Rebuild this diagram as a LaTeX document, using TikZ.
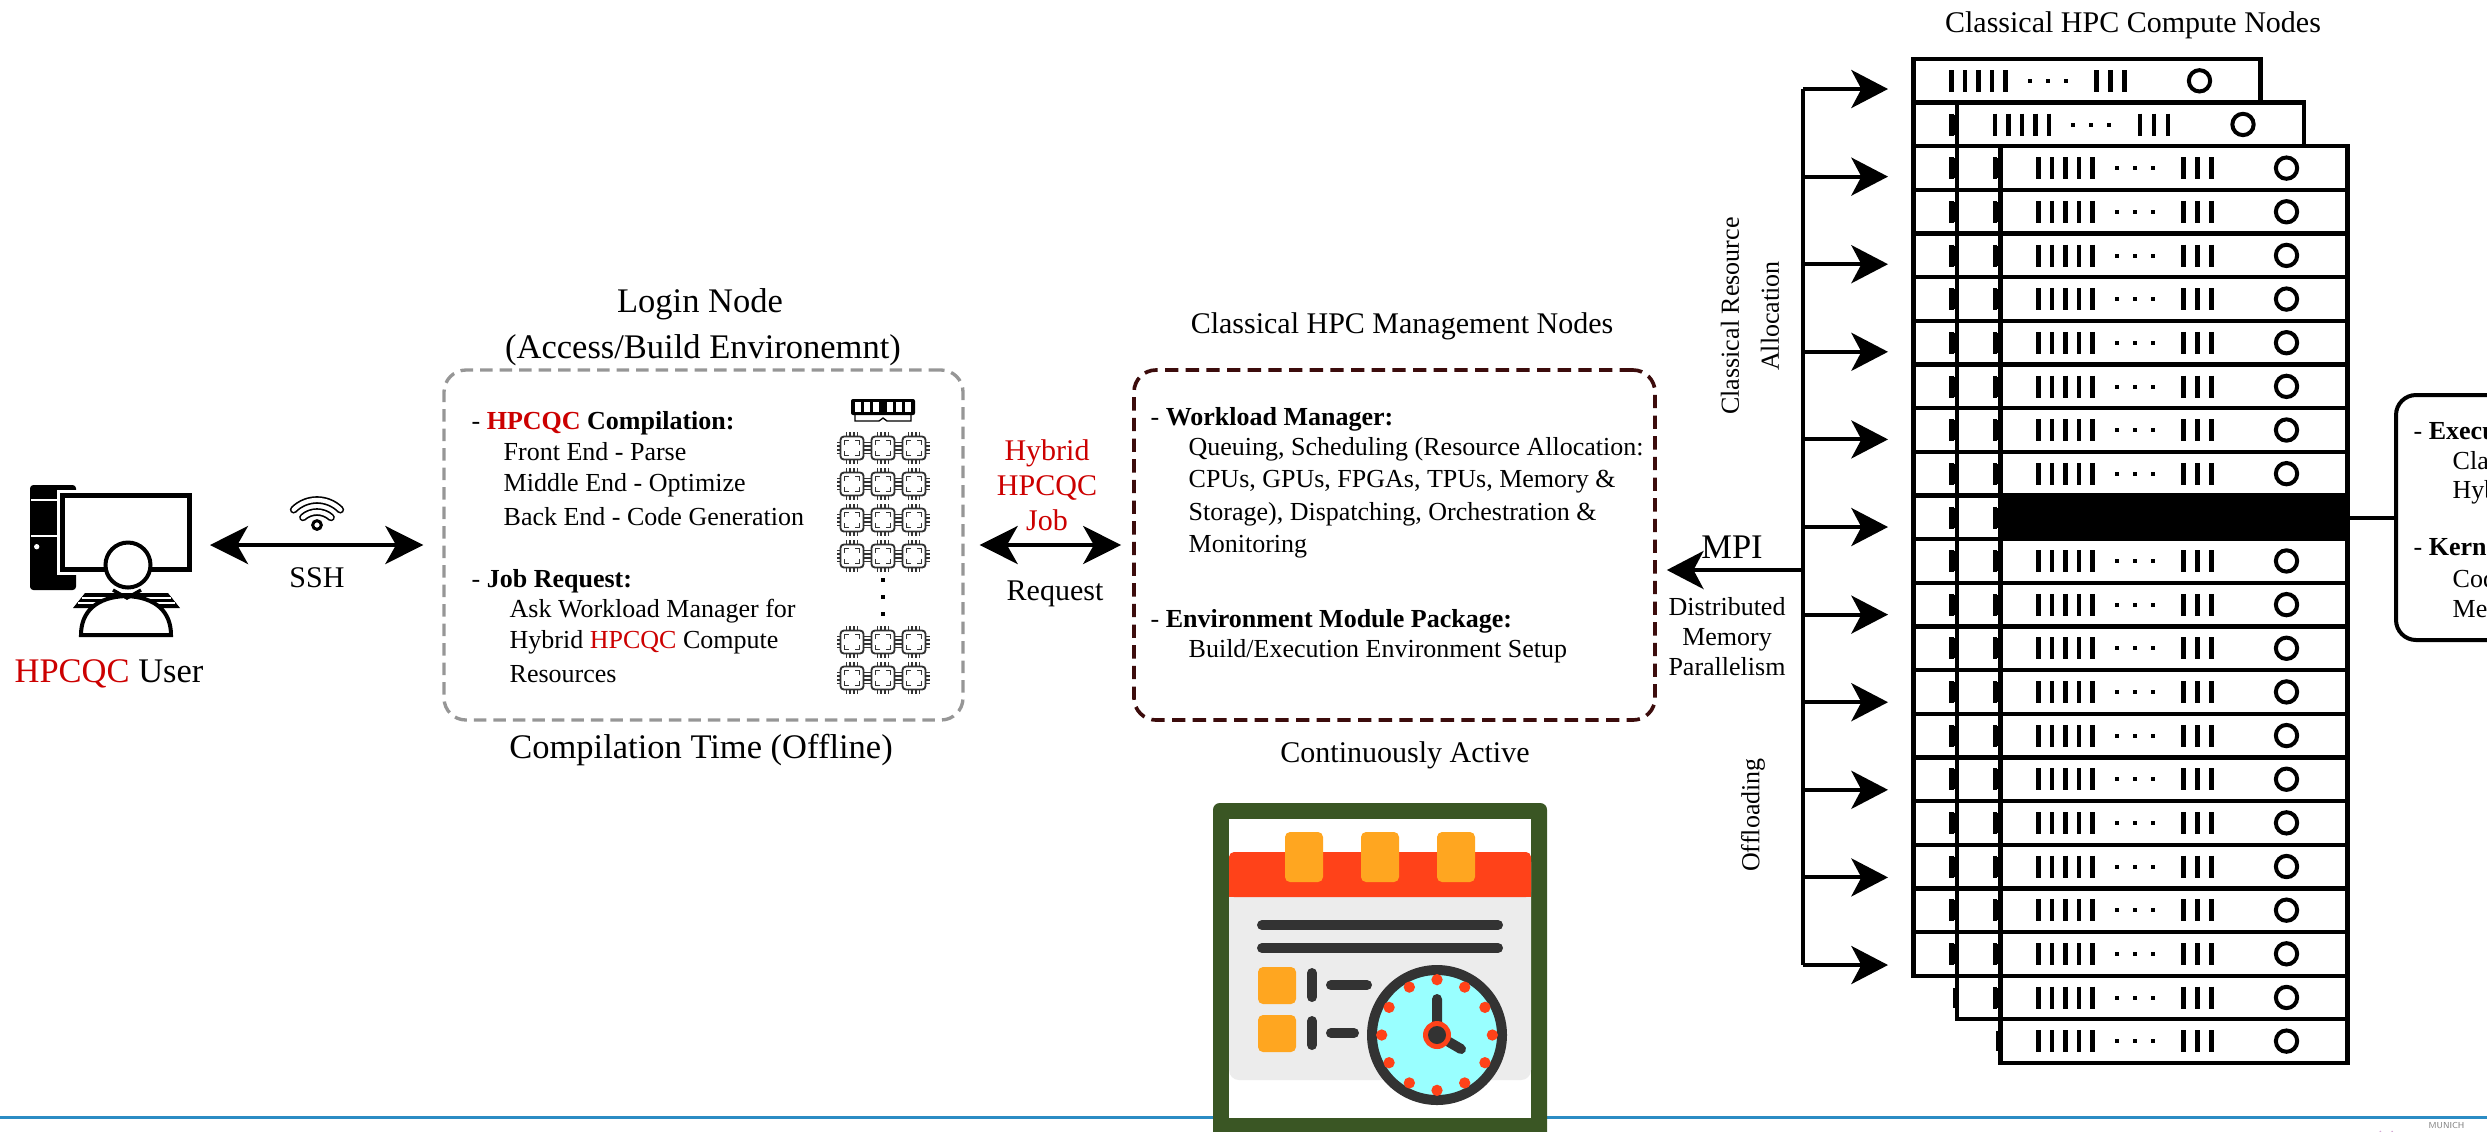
\documentclass[tikz,border=0pt]{standalone}
\usepackage{fontspec}
\setmainfont{Liberation Serif}
\usetikzlibrary{arrows.meta}

\definecolor{hpcred}{RGB}{204,0,0}
\definecolor{logingray}{RGB}{150,150,150}
\definecolor{mgmtbrown}{RGB}{60,12,12}
\definecolor{calgreen}{RGB}{58,86,36}
\definecolor{calred}{RGB}{255,66,25}
\definecolor{calorange}{RGB}{255,166,32}
\definecolor{calgray}{RGB}{236,236,236}
\definecolor{caldark}{RGB}{51,51,51}
\definecolor{clockface}{RGB}{153,255,255}
\definecolor{rulerblue}{RGB}{43,140,196}
\definecolor{chipgray}{RGB}{50,50,50}

\newcommand\smalltxt{\fontsize{7.8}{9.3}\selectfont}
\newcommand\midtxt{\fontsize{9}{10.8}\selectfont}
\newcommand\bigtxt{\fontsize{10.35}{14}\selectfont}
\newcommand\hq{\textcolor{hpcred}{HPCQC}}

\tikzset{
  lbl/.style={inner sep=0pt, anchor=base},
  lbll/.style={inner sep=0pt, anchor=base west},
  busarrow/.style={line width=1.2pt, -{Stealth[length=11pt, width=11.4pt, inset=3pt]}},
  dblarrow/.style={line width=1.2pt, {Stealth[length=11.4pt, width=11.4pt, inset=3.2pt]}-{Stealth[length=11.4pt, width=11.4pt, inset=3.2pt]}},
  rackunit/.pic={
    \draw[fill=white, line width=1.3pt] (0,0) rectangle (347,43.65);
    \foreach \bx in {38,51.5,65,78.5,92,183,197,211}
      \draw[line width=1.35pt] (\bx,11) -- (\bx,33);
    \foreach \dx in {116,134,152}
      \fill (\dx-2,20) rectangle (\dx+2,24);
    \draw[line width=1.2pt] (286,21.8) circle [radius=3.2pt];
  },
  chip/.pic={
    \draw[chipgray, line width=0.55pt, rounded corners=1pt, fill=white] (-11.5,-11.5) rectangle (11.5,11.5);
    \draw[chipgray, line width=0.5pt] (-7.5,-3) -- (-7.5,-7.5) -- (-3,-7.5) (3,-7.5) -- (7.5,-7.5) -- (7.5,-3)
      (7.5,3) -- (7.5,7.5) -- (3,7.5) (-3,7.5) -- (-7.5,7.5) -- (-7.5,3);
    \foreach \p in {-5.4,-1.8,1.8,5.4}
      \draw[chipgray, line width=0.45pt] (\p,-11.5) -- (\p,-16) (\p,11.5) -- (\p,16) (-11.5,\p) -- (-15.5,\p) (11.5,\p) -- (15.5,\p);
  }
}

\begin{document}
\begin{tikzpicture}[x=0.3pt,y=-0.3pt]
\useasboundingbox (0,0) rectangle (2487,1131);
\clip (0,0) rectangle (2487,1131);

%Straight Lines: footer rule
\draw[rulerblue, line width=0.9pt] (0,1117) -- (2487,1117);

%Shape: workstation and user
\fill[rounded corners=1pt] (30,485) rectangle (76,590);
\draw[white, line width=0.6pt] (31,500) -- (60,500) (31,536) -- (60,536);
\fill[white] (36.7,546.7) circle [radius=0.8pt];
\draw[white, line width=3.3pt] (62.5,495.5) rectangle (189.5,569.5);
\draw[line width=1.5pt, fill=white] (62.5,495.5) rectangle (189.5,569.5);
\fill (85,593) -- (168,593) -- (180,608) -- (73,608) -- cycle;
\draw[white, line width=0.5pt] (82,598) -- (171,598) (78,603) -- (175,603);
\draw[line width=1.2pt, fill=white] (81,635) .. controls (81,612) and (96,597) .. (126,596) .. controls (156,597) and (171,612) .. (171,635) -- cycle;
\draw[line width=1.2pt, fill=white] (128,565) circle [radius=6.75pt];
\draw[line width=1pt] (113,590) -- (127,598) -- (141,590);
\node[lbl, font=\bigtxt] (user) at (109,682) {\hq{} User};
\coordinate (user-link) at (210,545);

%Shape: wireless sign
\draw[line width=0.5pt, double=white, double distance=1.3pt, line cap=round] (317,533) ++(45:33*0.3pt) arc [start angle=45, end angle=135, radius=9.9pt];
\draw[line width=0.5pt, double=white, double distance=1.3pt, line cap=round] (317,533) ++(48:21*0.3pt) arc [start angle=48, end angle=132, radius=6.3pt];
\draw[line width=0.9pt, fill=white] (317,525) circle [radius=1.3pt];
\node[lbl, font=\midtxt] (ssh) at (317,587) {SSH};

% Login node
\node[lbl, font=\bigtxt] (login-title) at (700,312) {Login Node};
\node[lbl, font=\bigtxt] (login-sub) at (703,358) {(Access/Build Environemnt)};
\node[draw=logingray, line width=1pt, dash pattern=on 3.75pt off 2.1pt, rounded corners=6.6pt,
      minimum width=155.7pt, minimum height=105pt] (login) at (703.5,545) {};
\node[lbl, font=\bigtxt] (login-foot) at (701,758) {Compilation Time (Offline)};

% Text Node
\node[lbll, font=\smalltxt] (cmp-0) at (471,429) {- \textbf{\hq{} Compilation:}};
\node[lbll, font=\smalltxt] (cmp-1) at (503,460) {Front End - Parse};
\node[lbll, font=\smalltxt] (cmp-2) at (503,491) {Middle End - Optimize};
\node[lbll, font=\smalltxt] (cmp-3) at (503,525) {Back End - Code Generation};
\node[lbll, font=\smalltxt] (job-0) at (471,587) {- \textbf{Job Request:}};
\node[lbll, font=\smalltxt] (job-1) at (509,617) {Ask Workload Manager for};
\node[lbll, font=\smalltxt] (job-2) at (509,648) {Hybrid \hq{} Compute};
\node[lbll, font=\smalltxt] (job-3) at (509,682) {Resources};

%Shape: memory and processors
\fill[rounded corners=0.6pt] (851,399) rectangle (915,415);
\foreach \w in {855,864,873,887,896,905}
  \fill[white] (\w,402) rectangle (\w+6,412);
\draw[line width=0.4pt] (855,415) -- (855,421) -- (879,421) -- (883,418) -- (887,421) -- (911,421) -- (911,415);
\foreach \cx in {852,883,914} {
  \foreach \cy in {448,484,520,556,642,678}
    \pic at (\cx,\cy) {chip};
}
\foreach \dy in {580,597,614}
  \fill (881.3,\dy-1.7) rectangle (884.7,\dy+1.7);

% Hybrid job request
\node[lbl, font=\midtxt, text=hpcred] (job-a) at (1047,460) {Hybrid};
\node[lbl, font=\midtxt, text=hpcred] (job-b) at (1047,495) {HPCQC};
\node[lbl, font=\midtxt, text=hpcred] (job-c) at (1047,530) {Job};
\node[lbl, font=\midtxt] (request) at (1055,600) {Request};

% Management nodes
\node[lbl, font=\midtxt] (mgmt-title) at (1402,333) {Classical HPC Management Nodes};
\node[draw=mgmtbrown, line width=1.1pt, dash pattern=on 4pt off 2.2pt, rounded corners=6.6pt,
      minimum width=156.3pt, minimum height=105pt] (mgmt) at (1394.5,545) {};
\node[lbl, font=\midtxt] (mgmt-foot) at (1405,762) {Continuously Active};

% Text Node
\node[lbll, font=\smalltxt] (wl-0) at (1150,425) {- \textbf{Workload Manager:}};
\node[lbll, font=\smalltxt] (wl-1) at (1188,455) {Queuing, Scheduling (Resource Allocation:};
\node[lbll, font=\smalltxt] (wl-2) at (1188,487) {CPUs, GPUs, FPGAs, TPUs, Memory \&};
\node[lbll, font=\smalltxt] (wl-3) at (1188,520) {Storage), Dispatching, Orchestration \&};
\node[lbll, font=\smalltxt] (wl-4) at (1188,552) {Monitoring};
\node[lbll, font=\smalltxt] (env-0) at (1150,627) {- \textbf{Environment Module Package:}};
\node[lbll, font=\smalltxt] (env-1) at (1188,657) {Build/Execution Environment Setup};

\draw[dblarrow, shorten <=4.5pt, shorten >=3.3pt] (login.east) -- (mgmt.west);
\draw[dblarrow, shorten >=5.7pt] (user-link) -- (login.west);

%Shape: calendar with clock
\fill[calgreen, rounded corners=2pt] (1213,803) rectangle (1547,1145);
\fill[white] (1229,819) rectangle (1531,1118);
\fill[calgray, rounded corners=3pt] (1229,852) rectangle (1531,1080);
\fill[calred, rounded corners=1.5pt] (1229,852) rectangle (1531,897);
\fill[calred] (1229,870) rectangle (1531,897);
\foreach \tx in {1285,1361,1437}
  \fill[calorange, rounded corners=1.5pt] (\tx,832) rectangle (\tx+38,882);
\draw[caldark, line width=3pt, line cap=round] (1262,925) -- (1498,925) (1262,948) -- (1498,948);
\fill[calorange, rounded corners=1.5pt] (1258,967) rectangle (1296,1004);
\fill[calorange, rounded corners=1.5pt] (1258,1015) rectangle (1296,1052);
\draw[caldark, line width=3pt, line cap=round] (1312,973) -- (1312,997) (1312,1021) -- (1312,1045)
  (1331,985) -- (1367,985) (1331,1033) -- (1354,1033);
\draw[caldark, line width=3pt, fill=clockface] (1437,1035) circle [radius=19.5pt];
\foreach \a in {0,30,...,330}
  \fill[calred, shift={(1437,1035)}] (\a:16.6pt) circle [radius=1.7pt];
\draw[caldark, line width=3pt, line cap=round] (1437,1035) -- (1437,999) (1437,1035) -- (1461,1049);
\fill[calred] (1437,1035) circle [radius=4.2pt];
\fill[caldark] (1437,1035) circle [radius=2.7pt];

% Compute nodes, three staggered racks
\node[lbl, font=\midtxt] (rack-title) at (2133,32) {Classical HPC Compute Nodes};
\foreach \layer in {0,1,2} {
  \foreach \row in {0,...,20}
    \pic at (1913.5+43.5*\layer, 59+43.65*\layer+43.65*\row) {rackunit};
}
\foreach \layer in {1,2} {
  \foreach \row in {0,...,20}
    \fill (1909+43.5*\layer, 71+43.65*\layer+43.65*\row) rectangle (1913.5+43.5*\layer, 91+43.65*\layer+43.65*\row);
}
\filldraw[line width=1.3pt] (2000.5,495.5) rectangle +(347,43.65);
\fill (1996,507.5) rectangle (2000.5,527.5);
\coordinate (rack-link) at (2347.5,518);

% Execution box, runs off the page
\node[draw, line width=1.2pt, rounded corners=6pt, minimum width=126pt, minimum height=73.5pt] (exec) at (2606,517.5) {};
\draw[line width=1.2pt] (rack-link) -- (rack-link -| exec.west);
\node[lbll, font=\smalltxt] (ex-0) at (2413,439) {- \textbf{Execution Model:}};
\node[lbll, font=\smalltxt] (ex-1) at (2452,469) {Classical Code};
\node[lbll, font=\smalltxt] (ex-2) at (2452,498) {Hybrid Code};
\node[lbll, font=\smalltxt] (ex-3) at (2413,555) {- \textbf{Kernel Launch:}};
\node[lbll, font=\smalltxt] (ex-4) at (2452,587) {Code Offloading};
\node[lbll, font=\smalltxt] (ex-5) at (2452,617) {Memory Transfer};

% Resource allocation bus
\coordinate (bus-top) at (1803,89);
\coordinate (bus-bot) at (1803,965);
\draw[line width=1.2pt] (bus-top) -- (bus-bot);
\foreach \k in {0,...,10}
  \draw[busarrow] (1803,89+87.6*\k) -- (1888,89+87.6*\k);
\coordinate (bus-mpi) at (1803,570);
\draw[busarrow, shorten >=3pt] (bus-mpi) -- (bus-mpi -| mgmt.east);

% Text Node
\node[inner sep=0pt, rotate=90, align=center, font=\fontsize{7.8}{12}\selectfont] (alloc) at (1750,316) {Classical Resource\\Allocation};
\node[inner sep=0pt, rotate=90, font=\smalltxt] (offload) at (1753,815) {Offloading};
\node[lbl, font=\bigtxt] (mpi) at (1732,558) {MPI};
\node[lbl, font=\smalltxt] (dmp-0) at (1727,615) {Distributed};
\node[lbl, font=\smalltxt] (dmp-1) at (1727,645) {Memory};
\node[lbl, font=\smalltxt] (dmp-2) at (1727,675) {Parallelism};

% footer logo
\draw[violet!35, line width=0.4pt] (2380,1131) arc [start angle=200, end angle=340, radius=2pt];
\node[lbll, font=\sffamily\fontsize{2.6}{3}\selectfont, text=gray] (logo) at (2428,1128) {MUNICH};
\end{tikzpicture}
\end{document}
